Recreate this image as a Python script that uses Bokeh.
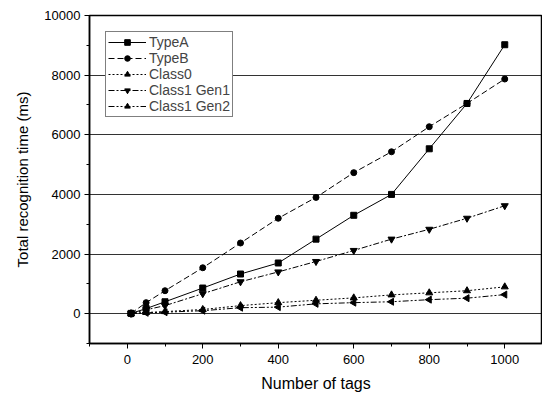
import numpy as np
from bokeh.plotting import figure
from bokeh.models import FixedTicker, Range1d, Legend, LegendItem
from bokeh.embed import file_html
from bokeh.resources import INLINE

tags = [10, 50, 100, 200, 300, 400, 500, 600, 700, 800, 900, 1000]
type_a = [10, 170, 400, 860, 1330, 1700, 2500, 3300, 4000, 5530, 7050, 9020]
type_b = [10, 370, 770, 1540, 2370, 3200, 3900, 4730, 5430, 6270, 7050, 7870]
class0 = [5, 40, 70, 140, 270, 370, 450, 530, 630, 700, 770, 900]
class1_gen1 = [5, 130, 270, 670, 1070, 1400, 1750, 2120, 2500, 2830, 3200, 3620]
class1_gen2 = [5, 30, 50, 100, 200, 220, 330, 370, 400, 470, 520, 640]

x_ticks = [0, 200, 400, 600, 800, 1000]
x_minor = [-100, 100, 300, 500, 700, 900, 1100]
y_ticks = [0, 2000, 4000, 6000, 8000, 10000]
y_minor = [-1000, 1000, 3000, 5000, 7000, 9000]

FONT = "Liberation Sans"

p = figure(frame_width=453, frame_height=328, output_backend="svg", toolbar_location=None,
           x_range=Range1d(-100, 1100), y_range=Range1d(-1000, 10000),
           min_border_left=89, min_border_right=0, min_border_top=15, min_border_bottom=40)
p.background_fill_color = "white"
p.border_fill_color = "white"
p.outline_line_color = "black"
p.outline_line_width = 1.5

p.xaxis.ticker = FixedTicker(ticks=x_ticks, minor_ticks=x_minor)
p.yaxis.ticker = FixedTicker(ticks=y_ticks, minor_ticks=y_minor)
for ax in (p.xaxis, p.yaxis):
    ax.axis_line_color = "black"
    ax.axis_line_width = 1.5
    ax.major_tick_in = 0
    ax.major_tick_out = 5
    ax.minor_tick_in = 0
    ax.minor_tick_out = 3
    ax.major_tick_line_color = "black"
    ax.minor_tick_line_color = "black"
    ax.major_label_text_font = FONT
    ax.major_label_text_font_size = "13px"
    ax.major_label_text_color = "black"
    ax.axis_label_text_font = FONT
    ax.axis_label_text_font_style = "normal"
    ax.axis_label_text_color = "black"
p.xaxis.axis_label = "Number of tags"
p.yaxis.axis_label = "Total recognition time (ms)"
p.xaxis.axis_label_text_font_size = "16px"
p.yaxis.axis_label_text_font_size = "15px"
p.xaxis.major_label_standoff = 6
p.xaxis.axis_label_standoff = 8
p.yaxis.major_label_standoff = 4
p.yaxis.axis_label_standoff = 10

p.xgrid.visible = False
p.ygrid.ticker = FixedTicker(ticks=[0, 2000, 4000, 6000, 8000])
p.ygrid.grid_line_color = "black"
p.ygrid.grid_line_width = 1
p.ygrid.grid_line_alpha = 0.8

series = [
    ("TypeA", type_a, "solid", "square", 0.0, 6),
    ("TypeB", type_b, "6 3", "circle", 0.0, 6),
    ("Class0", class0, "2 2", "triangle", 0.0, 7),
    ("Class1 Gen1", class1_gen1, "6 2 2 2", "inverted_triangle", 0.0, 7),
    ("Class1 Gen2", class1_gen2, "6 2 2 2 2 2", "triangle", 90.0, 7),
]

items = []
for name, ys, dash, marker, ang, sz in series:
    l = p.line(tags, ys, line_color="black", line_width=1, line_dash=dash)
    s = p.scatter(tags, ys, marker=marker, size=sz, angle=ang, angle_units="deg",
                  fill_color="black", line_color="black")
    items.append(LegendItem(label=name, renderers=[l, s]))

legend = Legend(items=items, location=(16, 226))
legend.margin = 0
legend.padding = 2
legend.spacing = 0
legend.glyph_width = 38
legend.glyph_height = 14
legend.label_height = 14
legend.label_standoff = 3
legend.label_text_font = FONT
legend.label_text_font_size = "14px"
legend.border_line_color = "black"
legend.border_line_width = 1
legend.background_fill_color = "white"
legend.background_fill_alpha = 1
p.add_layout(legend)

open("out.html", "w").write(file_html(p, INLINE))
